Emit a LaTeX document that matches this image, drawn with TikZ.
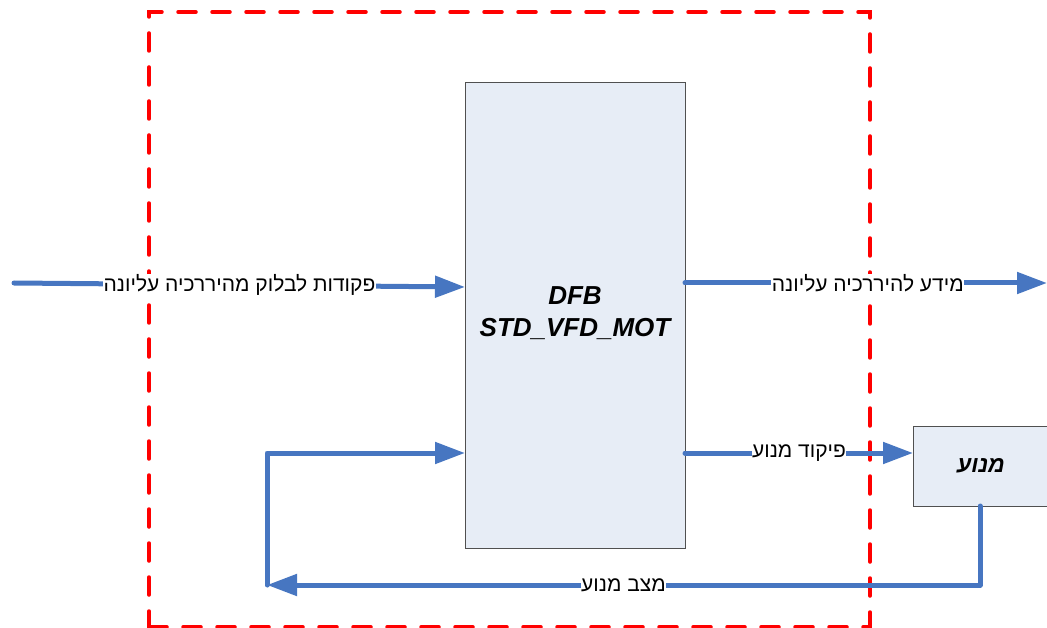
\documentclass[tikz,border=0pt]{standalone}
\usepackage{fontspec}
\setmainfont{Liberation Sans}
\newfontfamily\hebfont[Script=Hebrew]{Liberation Sans}
\TeXXeTstate=1
\usetikzlibrary{arrows.meta}
\definecolor{flow}{RGB}{71,118,193}
\definecolor{blkfill}{RGB}{231,237,246}
\definecolor{blkdraw}{RGB}{80,80,80}
\tikzset{
  flowline/.style={draw=flow,line width=5pt,line cap=round,line join=round},
  flowarrow/.style={flowline,-{Triangle[length=30pt,width=21pt]}},
  lbl/.style={fill=white,inner sep=0.5pt,font=\hebfont\fontsize{21}{24}\selectfont},
  blockbox/.style={draw=blkdraw,fill=blkfill,line width=0.8pt},
  frame/.style={draw=red,line width=3.5pt,line cap=round,dash pattern=on 18pt off 16pt},
}
\begin{document}
\begin{tikzpicture}[x=1pt,y=-1pt]
\useasboundingbox (0,0) rectangle (1047,628);
% dashed frame
\draw[frame] (149,629) -- (149,12) -- (870,12) -- (870,629);
\draw[frame] (149,627) -- (870,627);
% main block
\node[blockbox,minimum width=220pt,minimum height=466pt,anchor=north west,inner sep=0pt] (blk) at (465,82) {};
\node[font=\bfseries\itshape\fontsize{26}{32}\selectfont,align=center] (blktxt) at (575,313) {DFB\\STD\_VFD\_MOT};
% motor block
\node[blockbox,minimum width=150pt,minimum height=80pt,anchor=north west,inner sep=0pt] (motor) at (913,426) {};
\node[font=\hebfont\bfseries\itshape\fontsize{23}{26}\selectfont] (motortxt) at (981,466) {\beginR מנוע\endR};
% coordinates
\coordinate (inS) at (14,283);
\coordinate (inE) at (465,287);
\coordinate (outS) at (685,283);
\coordinate (outE) at (1047,283);
\coordinate (cmdS) at (685,453);
\coordinate (cmdE) at (913,453);
\coordinate (fbS) at (980,506);
\coordinate (fbC) at (980,585);
\coordinate (fbE) at (267,585);
\coordinate (fbU) at (267,453);
\coordinate (fbIn) at (465,453);
% connectors
\draw[flowarrow] (inS) -- node[lbl,pos=0.5] (inL) {\beginR פקודות לבלוק מהיררכיה עליונה\endR} (inE);
\draw[flowarrow] (outS) -- node[lbl,pos=0.505] (outL) {\beginR מידע להיררכיה עליונה\endR} (outE);
\draw[flowarrow] (cmdS) -- node[lbl,pos=0.5] (cmdL) {\beginR פיקוד מנוע\endR} (cmdE);
\draw[flowarrow] (fbS) -- (fbC) -- node[lbl,pos=0.5] (fbL) {\beginR מצב מנוע\endR} (fbE);
\draw[flowarrow] (fbE) -- (fbU) -- (fbIn);
\end{tikzpicture}
\end{document}
